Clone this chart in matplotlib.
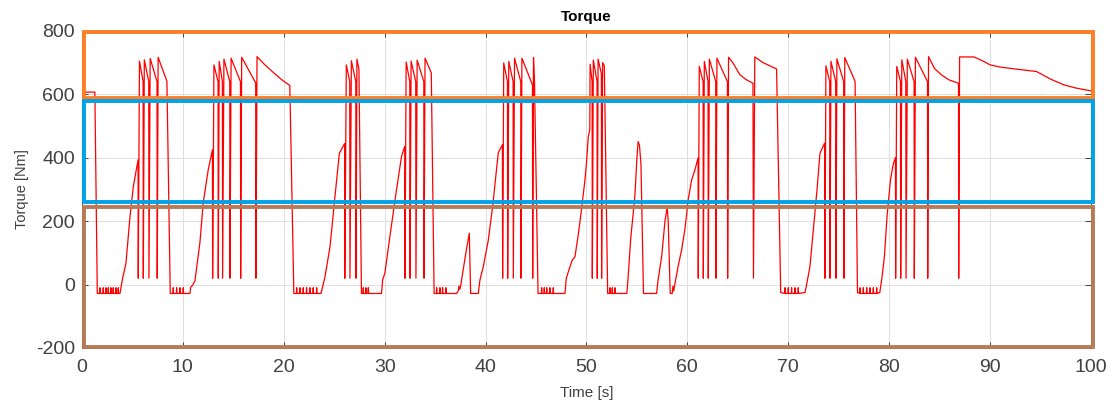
import numpy as np
import matplotlib
matplotlib.use('Agg')
import matplotlib.pyplot as plt
from matplotlib.patches import Rectangle

plt.rcParams['font.family'] = ['Liberation Sans', 'DejaVu Sans']
plt.rcParams['axes.unicode_minus'] = False

# torque trace: (time [s], torque [Nm]) per drive cycle
cycle_1 = [(0.0, 607), (1.28, 607), (1.52, -28), (3.77, -28), (4.03, 20), (4.36, 67),
           (4.76, 214), (5.09, 309), (5.56, 393), (5.58, 20), (5.70, 705), (6.06, 640),
           (6.08, 20), (6.18, 709), (6.62, 640), (6.64, 20), (6.76, 713), (7.44, 640),
           (7.46, 20), (7.55, 717), (8.42, 641), (8.75, -28)]
cycle_2 = [(10.70, -28), (10.78, -8), (10.95, -3), (11.2, 12), (11.69, 132), (12.02, 258),
           (12.52, 363), (12.93, 425), (12.95, 20), (13.08, 693), (13.49, 640), (13.51, 20),
           (13.60, 704), (13.92, 640), (13.94, 20), (14.07, 711), (14.65, 640), (14.67, 20),
           (14.78, 714), (15.71, 640), (15.73, 20), (15.83, 717), (17.22, 636), (17.24, 20),
           (17.35, 719), (18.1, 694), (19.0, 668), (19.8, 646), (20.6, 628), (21.0, -28)]
cycle_3 = [(23.69, -28), (24.09, 25), (24.59, 121), (25.08, 279), (25.51, 414), (26.03, 445),
           (26.05, 20), (26.20, 693), (26.54, 640), (26.56, 20), (26.70, 706), (27.14, 640),
           (27.16, 20), (27.25, 711), (27.45, 680), (27.70, -28)]
cycle_4 = [(29.69, -28), (29.80, 15), (30.02, 36), (30.52, 152), (31.08, 279), (31.67, 404),
           (31.99, 436), (32.01, 20), (32.13, 702), (32.49, 640), (32.51, 20), (32.62, 705),
           (33.08, 640), (33.10, 20), (33.22, 708), (33.88, 640), (33.90, 20), (34.0, 714),
           (34.62, 668), (34.90, -28)]
cycle_5 = [(37.13, -28), (37.30, -20), (37.35, -5), (37.45, -15), (37.55, 0), (37.8, 50),
           (38.1, 110), (38.39, 162), (38.52, -28), (39.28, -28), (39.44, 14), (39.77, 56),
           (40.27, 140), (40.7, 246), (41.26, 416), (41.67, 441), (41.69, 20), (41.80, 699),
           (42.17, 640), (42.19, 20), (42.30, 704), (42.73, 640), (42.75, 20), (42.87, 714),
           (43.49, 640), (43.51, 20), (43.60, 714), (44.65, 630), (44.67, 20), (44.75, 716),
           (44.85, 640), (45.20, -28)]
cycle_6 = [(47.87, -28), (48.0, 20), (48.3, 50), (48.59, 77), (48.86, 88), (49.2, 160),
           (49.52, 240), (49.85, 330), (50.0, 383), (50.18, 467), (50.33, 488), (50.36, 695),
           (50.56, 640), (50.58, 20), (50.68, 708), (51.05, 640), (51.07, 20), (51.15, 711),
           (51.48, 665), (51.50, 20), (51.60, 700), (51.77, 690), (52.10, -28)]
cycle_7 = [(54.0, -28), (54.1, 10), (54.4, 150), (54.8, 280), (55.0, 400), (55.12, 451),
           (55.25, 440), (55.4, 380), (55.65, -28), (56.95, -28), (57.1, 15), (57.45, 88),
           (57.78, 200), (58.0, 244), (58.1, 200), (58.30, -28), (58.5, -28), (58.57, -5),
           (58.65, -20), (58.75, 0), (59.1, 60), (59.43, 110), (59.76, 175), (60.09, 270),
           (60.42, 330), (60.75, 362), (61.06, 399), (61.08, 20), (61.18, 688), (61.56, 640),
           (61.58, 20), (61.68, 704), (62.05, 640), (62.07, 20), (62.18, 711), (62.81, 640),
           (62.83, 20), (62.93, 714), (63.97, 640), (63.99, 20), (64.08, 717), (64.5, 700),
           (65.2, 662), (65.8, 647), (66.5, 635), (66.55, 20), (66.68, 718), (67.5, 700),
           (68.84, 680), (69.25, -25)]
cycle_8 = [(71.66, -25), (71.8, -3), (72.15, 57), (72.48, 170), (72.85, 300), (73.14, 414),
           (73.60, 446), (73.63, 20), (73.73, 690), (74.11, 640), (74.13, 20), (74.23, 704),
           (74.70, 640), (74.72, 20), (74.82, 712), (75.49, 640), (75.51, 20), (75.60, 716),
           (76.62, 641), (76.86, -25)]
cycle_9 = [(79.07, -25), (79.3, 25), (79.53, 90), (79.8, 220), (80.13, 330), (80.4, 380),
           (80.62, 400), (80.64, 20), (80.75, 688), (81.12, 640), (81.14, 20), (81.25, 709),
           (81.65, 640), (81.67, 20), (81.80, 711), (82.47, 640), (82.49, 20), (82.60, 717),
           (83.80, 640), (83.82, 20), (83.90, 719), (84.5, 681), (85.2, 661), (85.9, 646),
           (86.87, 635), (86.89, 20), (86.98, 718), (88.4, 718), (89.3, 705), (90.0, 693),
           (91.0, 686), (92.5, 680), (94.6, 672), (95.3, 660), (96.0, 648), (97.3, 630),
           (98.5, 620), (100.0, 611)]

# small ripples while idling (time of each tick), idle level and tick top
idle_ticks = [1.78, 2.11, 2.38, 2.61, 2.87, 3.10, 3.37, 3.60,
              9.05, 9.38, 9.71, 10.04,
              21.28, 21.60, 21.93, 22.26, 22.60, 22.92, 23.26,
              27.88, 28.15, 28.38,
              35.15, 35.48, 35.74, 36.07,
              45.56, 45.82, 46.06, 46.38, 46.71,
              52.33, 52.56, 52.83,
              69.67, 70.00, 70.33, 70.66, 70.99,
              77.11, 77.44, 77.77, 78.10, 78.43, 78.76]
idle_level = -28
tick_top = -10

# highlighted bands (torque ranges), paint-style colours
bands = [(588, 797, '#FF7F27'), (261, 578, '#00A2E8'), (-198, 245, '#B97A57')]

pts = cycle_1 + cycle_2 + cycle_3 + cycle_4 + cycle_5 + cycle_6 + cycle_7 + cycle_8 + cycle_9
for t in idle_ticks:
    pts += [(t - 0.025, idle_level), (t, tick_top), (t + 0.025, idle_level)]
pts = sorted(pts, key=lambda p: p[0])
time_s = np.array([p[0] for p in pts])
torque = np.array([p[1] for p in pts])

fig = plt.figure(figsize=(11.12, 4.07), dpi=100)
ax = fig.add_axes([0.0737, 0.145, 0.9074, 0.779])

ax.plot(time_s, torque, color='red', lw=0.9, zorder=3)

for lo, hi, c in bands:
    ax.add_patch(Rectangle((0.2, lo), 100.0, hi - lo, fill=False, edgecolor=c,
                           lw=2.8, zorder=5, clip_on=False))

ax.set_xlim(0, 100)
ax.set_ylim(-200, 800)
ax.set_xticks(np.arange(0, 101, 10))
ax.set_yticks(np.arange(-200, 801, 200))
ax.grid(True, color='#dedede', lw=0.7)
ax.set_axisbelow(True)
ax.tick_params(direction='in', top=True, right=True, length=4, width=0.6,
               color='#262626', labelsize=14, labelcolor='#404040')
ax.tick_params(axis='x', pad=8)
ax.tick_params(axis='y', pad=5)
for s in ax.spines.values():
    s.set_color('#262626')
    s.set_linewidth(0.6)

ax.set_title('Torque', fontsize=11, fontweight='bold', pad=7)
ax.set_xlabel('Time [s]', fontsize=11, color='#404040', labelpad=7)
ax.set_ylabel('Torque [Nm]', fontsize=10.5, color='#404040', labelpad=5)

fig.savefig('out.png', dpi=100)
